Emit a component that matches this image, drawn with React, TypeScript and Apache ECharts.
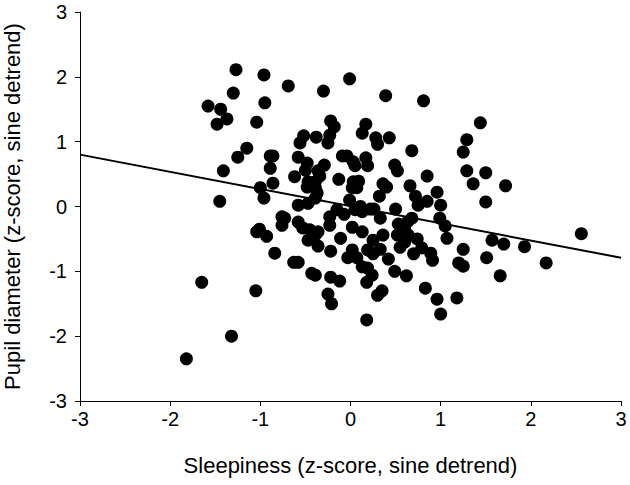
import React, { useEffect, useRef } from "react";
import * as echarts from "echarts";

// Sleepiness (x) and pupil diameter (y), z-scores, sine detrend
const sleepiness = [
  -1.27, -0.96, -0.69, -1.30, -1.58, -1.44, -0.95, -1.37, -1.48, -1.04,
  -1.15, -1.25, -1.41, -1.45, -1.65, -1.32, -1.82, -1.00, -0.96, -1.01,
  -1.04, -0.93, -1.05, -0.01, -0.30, 0.39, 0.81, -0.22, -0.18, 0.17,
  0.13, -0.52, -0.38, -0.23, -0.56, -0.25, 0.28, 0.30, 0.43, 0.68,
  -0.89, -0.86, -0.58, -0.89, -0.48, -0.50, -0.09, -0.04, 0.03, 0.05,
  0.17, 0.19, -0.29, 0.49, 0.52, 0.85, -0.36, -0.34, -0.62, -0.86,
  -0.13, -0.47, -0.39, -0.48, -0.39, -0.37, -0.39, 0.03, 0.09, 0.02,
  0.07, 0.36, 0.40, 0.66, 0.32, 0.72, 0.75, 0.85, 0.96, 1.00,
  -0.58, -0.47, -0.01, -0.15, -0.07, 0.05, 0.11, 0.13, 0.22, 0.26,
  0.50, -0.76, -0.73, -0.76, -0.58, -0.53, -0.45, -0.39, -0.36, -0.47,
  -0.36, -0.23, -0.23, 0.02, -0.11, 0.13, 0.33, 0.68, 0.63, 0.99,
  1.05, 0.53, 0.60, 0.52, 0.64, 0.60, 0.36, 1.07, 0.74, 0.25,
  0.55, 0.79, 0.89, 0.91, 0.19, 0.33, 0.25, 0.70, 0.07, 0.13,
  0.19, 0.24, 0.42, 0.49, 0.62, 0.18, 0.83, 0.30, 0.35, 0.96,
  1.00, 0.18, -0.84, -0.22, 0.02, -0.03, -0.63, -0.58, -0.43, -0.39,
  -0.22, -0.12, -0.25, -0.21, 1.44, 1.29, 1.25, 1.29, 1.50, 1.36,
  1.72, 1.50, 2.56, 1.57, 1.70, 1.93, 1.25, 1.51, 1.20, 1.25,
  2.17, 1.66, 1.18,
];

const pupil = [
  2.11, 2.03, 1.86, 1.75, 1.55, 1.50, 1.60, 1.35, 1.27, 1.30,
  0.90, 0.76, 0.55, 0.08, -1.17, -2.00, -2.35, 0.29, 0.13, -0.35,
  -0.39, -0.46, -1.30, 1.97, 1.78, 1.71, 1.63, 1.32, 1.23, 1.27,
  1.13, 1.09, 1.07, 1.10, 0.98, 0.98, 1.06, 0.96, 1.06, 0.86,
  0.78, 0.78, 0.76, 0.59, 0.67, 0.56, 0.78, 0.78, 0.69, 0.63,
  0.75, 0.63, 0.64, 0.64, 0.55, 0.47, 0.55, 0.47, 0.46, 0.36,
  0.42, 0.38, 0.38, 0.30, 0.29, 0.21, 0.13, 0.38, 0.39, 0.29,
  0.29, 0.35, 0.30, 0.32, 0.16, 0.16, 0.02, 0.08, 0.22, 0.02,
  0.02, 0.05, 0.10, -0.05, -0.12, -0.05, 0.00, -0.08, -0.04, -0.04,
  -0.04, -0.16, -0.18, -0.29, -0.24, -0.33, -0.36, -0.44, -0.39, -0.52,
  -0.61, -0.16, -0.29, -0.32, -0.49, -0.39, -0.18, -0.18, -0.24, -0.18,
  -0.30, -0.27, -0.36, -0.44, -0.44, -0.55, -0.44, -0.49, -0.50, -0.52,
  -0.63, -0.64, -0.72, -0.83, -0.67, -0.66, -0.73, -0.73, -0.79, -0.93,
  -0.95, -1.06, -0.81, -1.00, -1.07, -1.17, -1.26, -1.37, -1.30, -1.43,
  -1.66, -1.75, -0.72, -0.69, -0.67, -0.79, -0.86, -0.86, -1.03, -1.06,
  -1.09, -1.15, -1.35, -1.50, 1.29, 1.03, 0.84, 0.55, 0.52, 0.35,
  0.32, 0.07, -0.42, -0.52, -0.58, -0.62, -0.66, -0.79, -0.87, -0.92,
  -0.87, -1.07, -1.41,
];

// Regression line end points
const fitX = [-3, 3];
const fitY = [0.8, -0.79];

const xName = "Sleepiness (z-score, sine detrend)";
const yName = "Pupil diameter (z-score, sine detrend)";

export default function App() {
  const ref = useRef<HTMLDivElement>(null);
  useEffect(() => {
    if (!ref.current) return;
    const chart = echarts.init(ref.current, undefined, { renderer: "svg" });
    const points = sleepiness.map((x, i) => [x, pupil[i]]);
    const fit = fitX.map((x, i) => [x, fitY[i]]);
    const font = "Liberation Sans, Arial, sans-serif";
    chart.setOption({
      animation: false,
      backgroundColor: "#fff",
      grid: {
        left: 80,
        right: 9,
        top: 12,
        bottom: 84,
        containLabel: false,
        outerBoundsMode: "none",
      },
      xAxis: {
        type: "value",
        min: -3,
        max: 3,
        interval: 1,
        name: xName,
        nameLocation: "middle",
        nameGap: 53,
        nameTextStyle: { color: "#000", fontSize: 22, fontWeight: "normal", fontFamily: font },
        axisLine: { show: true, onZero: false, lineStyle: { color: "#000", width: 1 } },
        axisTick: { show: true, length: 5, lineStyle: { color: "#000" } },
        axisLabel: { color: "#000", fontSize: 20, fontFamily: font, margin: 8 },
        splitLine: { show: false },
      },
      yAxis: {
        type: "value",
        min: -3,
        max: 3,
        interval: 1,
        name: yName,
        nameLocation: "middle",
        nameGap: 57,
        nameTextStyle: { color: "#000", fontSize: 22, fontWeight: "normal", fontFamily: font },
        axisLine: { show: true, onZero: false, lineStyle: { color: "#000", width: 1 } },
        axisTick: { show: true, length: 5, lineStyle: { color: "#000" } },
        axisLabel: { color: "#000", fontSize: 20, fontFamily: font, margin: 13 },
        splitLine: { show: false },
      },
      series: [
        {
          type: "scatter",
          data: points,
          symbol: "circle",
          symbolSize: 13,
          itemStyle: { color: "#000", opacity: 1 },
          silent: true,
        },
        {
          type: "line",
          data: fit,
          symbol: "none",
          lineStyle: { color: "#000", width: 2 },
          silent: true,
          z: 3,
        },
      ],
    });
    return () => chart.dispose();
  }, []);
  return (
    <div
      ref={ref}
      style={{ position: "fixed", left: 0, top: 0, width: 630, height: 485 }}
    />
  );
}
